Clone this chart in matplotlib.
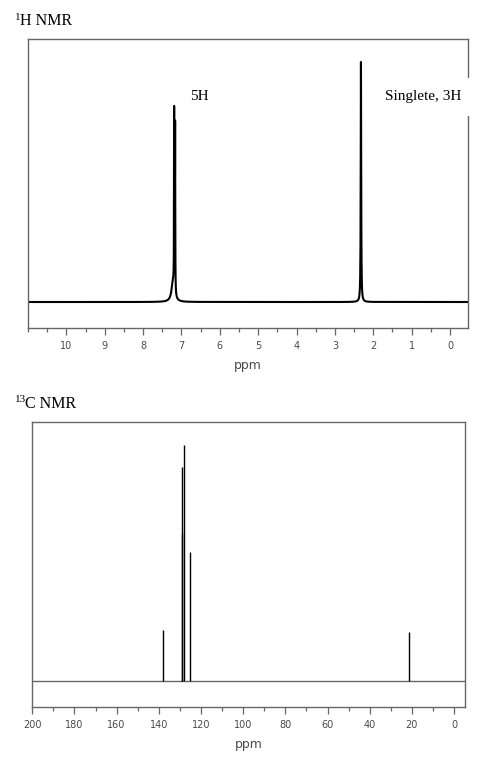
import numpy as np
import matplotlib
matplotlib.use('Agg')
import matplotlib.pyplot as plt
from matplotlib.ticker import MultipleLocator, FixedLocator

# 1H NMR peaks (ppm, height, half width)
h_shift = [7.22, 7.19, 7.165, 2.32]
h_height = [20, 178, 169, 240]
h_width = [0.045, 0.004, 0.004, 0.007]
h_labels = ['5H', 'Singlete, 3H']
h_ticks = [0, 1, 2, 3, 4, 5, 6, 7, 8, 9, 10]

# 13C NMR lines (ppm, height)
c_shift = [137.9, 129.2, 129.0, 128.2, 125.3, 21.4]
c_height = [51, 148, 214, 236, 129, 49]
c_ticks = [0, 20, 40, 60, 80, 100, 120, 140, 160, 180, 200]

grey = '#666666'
tick_grey = '#4a4a4a'

fig = plt.figure(figsize=(4.96, 7.60), dpi=100)


def style_axes(ax):
    for s in ax.spines.values():
        s.set_color(grey)
        s.set_linewidth(1.0)
    ax.set_yticks([])
    ax.tick_params(axis='x', which='major', direction='out', length=5,
                   width=0.9, color=grey, labelsize=7, labelcolor=tick_grey, pad=4)
    ax.tick_params(axis='x', which='minor', direction='out', length=3,
                   width=0.9, color=grey)
    ax.set_xlabel('ppm', fontsize=9, color=tick_grey, labelpad=6)


# ---- 1H spectrum ----
ax1 = fig.add_axes([0.0565, 0.5684, 0.887, 0.3803])
x = np.arange(-0.6, 11.2, 0.0005)
y = np.zeros_like(x)
for p, h, w in zip(h_shift, h_height, h_width):
    y += h * w**2 / ((x - p)**2 + w**2)
ax1.plot(x, y, color='black', lw=1.5)
ax1.set_xlim(11.0, -0.47)
ax1.set_ylim(-26, 263)
ax1.xaxis.set_major_locator(FixedLocator(h_ticks))
ax1.xaxis.set_minor_locator(MultipleLocator(0.5))
style_axes(ax1)
ax1.text(6.78, 205, h_labels[0], fontsize=11, family='Liberation Serif',
         ha='left', va='center', zorder=5)
ax1.text(-0.29, 205, h_labels[1], fontsize=11, family='Liberation Serif',
         ha='right', va='center', zorder=5, clip_on=False,
         bbox=dict(facecolor='white', edgecolor='none', pad=9))

# ---- 13C spectrum ----
ax2 = fig.add_axes([0.0651, 0.0697, 0.8724, 0.375])
ax2.axhline(0, color=grey, lw=1.0)
ax2.vlines(c_shift, 0, c_height, color='black', lw=1.0)
ax2.set_xlim(200, -5.2)
ax2.set_ylim(-26, 259)
ax2.xaxis.set_major_locator(FixedLocator(c_ticks))
ax2.xaxis.set_minor_locator(MultipleLocator(10))
style_axes(ax2)

# panel titles with superscript mass numbers
fig.text(15 / 496, 1 - 17 / 760, '1', fontsize=8, family='Liberation Serif',
         ha='left', va='center')
fig.text(20 / 496, 1 - 21 / 760, 'H NMR', fontsize=11.5, family='Liberation Serif',
         ha='left', va='center')
fig.text(15 / 496, 1 - 400 / 760, '13', fontsize=8, family='Liberation Serif',
         ha='left', va='center')
fig.text(25 / 496, 1 - 404 / 760, 'C NMR', fontsize=11.5, family='Liberation Serif',
         ha='left', va='center')

fig.savefig('out.png', dpi=100)
